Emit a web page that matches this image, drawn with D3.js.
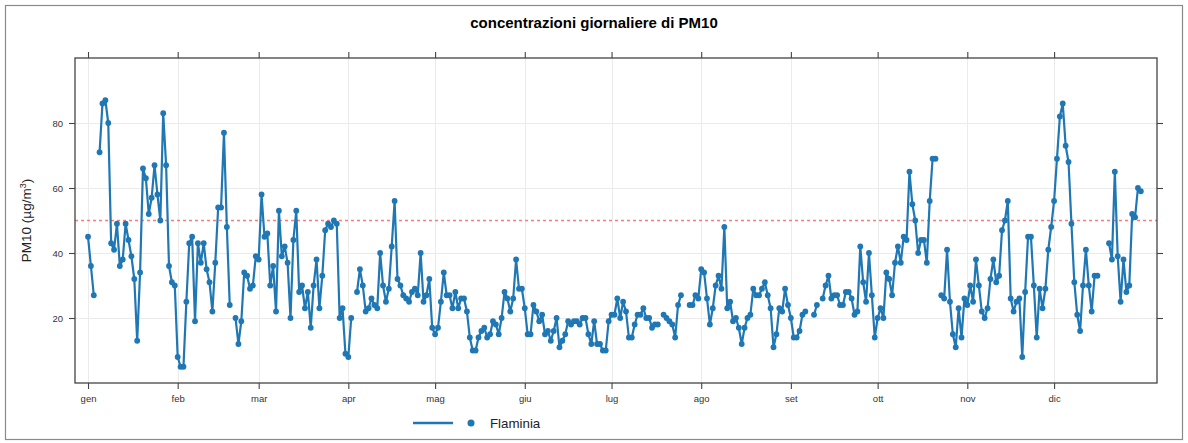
<!DOCTYPE html>
<html>
<head>
<meta charset="utf-8">
<script src="https://cdn.jsdelivr.net/npm/d3@7"></script>
<style>
  body { margin: 0; background: #fff; }
  svg text { font-family: "Liberation Sans", Arial, Helvetica, sans-serif; }
</style>
</head>
<body>
<svg id="chart" width="1188" height="443"></svg>
<script>
// Daily PM10 means (µg/m³), one array per month; null = no valid day.
const year = 2023;
const monthLabels = ["gen", "feb", "mar", "apr", "mag", "giu", "lug", "ago", "set", "ott", "nov", "dic"];

const pm10Gen = [45, 36, 27, null, 71, 86, 87, 80, 43, 41, 49, 36, 38, 49, 44, 39, 32, 13, 34, 66, 63, 52, 57, 67, 58, 50, 83, 67, 36, 31, 30];
const pm10Feb = [8, 5, 5, 25, 43, 45, 19, 43, 37, 43, 35, 31, 22, 37, 54, 54, 77, 48, 24, null, 20, 12, 19, 34, 33, 29, 30, 39];
const pm10Mar = [38, 58, 45, 46, 30, 36, 22, 53, 39, 42, 37, 20, 44, 53, 28, 30, 23, 28, 17, 30, 38, 23, 33, 47, 49, 48, 50, 49, 20, 23, 9];
const pm10Apr = [8, 20, null, 28, 35, 30, 22, 23, 26, 24, 23, 40, 30, 25, 29, 42, 56, 32, 30, 27, 26, 25, 28, 29, 27, 40, 25, 27, 32, 17];
const pm10Mag = [15, 17, 25, 34, 27, 27, 23, 28, 23, 26, 26, 22, 14, 10, 10, 14, 16, 17, 14, 15, 19, 18, 15, 20, 28, 26, 22, 26, 38, 29, 29];
const pm10Giu = [23, 15, 15, 24, 22, 19, 21, 15, 16, 13, 16, 20, 11, 13, 15, 19, 18, 19, 19, 18, 20, 20, 15, 12, 19, 12, 12, 10, 10, 19];
const pm10Lug = [21, 21, 26, 20, 25, 22, 14, 14, 18, 21, 21, 23, 20, 20, 17, 18, 18, null, 21, 20, 19, 18, 14, 24, 27, null, null, 24, 24, 27, 26];
const pm10Ago = [35, 34, 26, 18, 23, 30, 33, 29, 48, 23, 25, 19, 20, 17, 12, 17, 20, 21, 29, 27, 27, 29, 31, 27, 23, 11, 15, 23, 22, 29, 24];
const pm10Set = [20, 14, 14, 16, 21, 22, null, null, 21, 24, null, 26, 30, 33, 26, 27, 27, 24, 24, 28, 28, 26, 21, 22, 42, 31, 25, 40, 27, 14];
const pm10Ott = [20, 23, 20, 34, 32, 27, 37, 42, 37, 45, 44, 65, 55, 50, 40, 44, 44, 37, 56, 69, 69, null, 27, 26, 41, 25, 15, 11, 23, 14, 26];
const pm10Nov = [24, 30, 25, 38, 30, 22, 20, 23, 32, 38, 31, 33, 47, 50, 56, 26, 22, 25, 26, 8, 28, 45, 45, 30, 14, 29, 23, 29, 41, 48];
const pm10Dic = [56, 69, 82, 86, 73, 68, 49, 31, 21, 16, 30, 41, 30, 22, 33, 33, null, null, null, 43, 38, 65, 39, 25, 38, 28, 30, 52, 51, 60, 59];

const seriesName = "Flaminia";
const limitValue = 50;          // daily limit value
const yTicks = [20, 40, 60, 80];
const yDomain = [0, 100];

const monthly = [pm10Gen, pm10Feb, pm10Mar, pm10Apr, pm10Mag, pm10Giu,
                 pm10Lug, pm10Ago, pm10Set, pm10Ott, pm10Nov, pm10Dic];
const data = monthly.flatMap((vals, m) =>
  vals.map((v, i) => ({ date: new Date(year, m, i + 1), value: v })));

const svg = d3.select("#chart");
const W = 1188, H = 443;
const plot = { left: 75, right: 1157, top: 58, bottom: 383 };
const color = "#1f77b4";

// outer frame
svg.append("rect")
  .attr("x", 5.5).attr("y", 5.5).attr("width", W - 11).attr("height", H - 9)
  .attr("fill", "#fff").attr("stroke", "#8a8a8a").attr("stroke-width", 1.2);

const x = d3.scaleTime()
  .domain([d3.timeHour.offset(new Date(year, 0, 1), -4.5 * 24),
           d3.timeHour.offset(new Date(year, 11, 31), 5.6 * 24)])
  .range([plot.left, plot.right]);
const y = d3.scaleLinear().domain(yDomain).range([plot.bottom, plot.top]);

const monthStarts = d3.range(12).map(m => new Date(year, m, 1));

// grid
const grid = svg.append("g").attr("stroke", "#ebebeb").attr("stroke-width", 1);
grid.selectAll("line.v").data(monthStarts).join("line")
  .attr("x1", d => Math.round(x(d)) + 0.5).attr("x2", d => Math.round(x(d)) + 0.5)
  .attr("y1", plot.top).attr("y2", plot.bottom);
grid.selectAll("line.h").data(yTicks).join("line")
  .attr("y1", d => Math.round(y(d)) + 0.5).attr("y2", d => Math.round(y(d)) + 0.5)
  .attr("x1", plot.left).attr("x2", plot.right);

// axes (ticks outside on all four sides)
const fmtMonth = d => monthLabels[d.getMonth()];
function styleAxis(g) {
  g.select(".domain").remove();
  g.selectAll(".tick line").attr("stroke", "#444").attr("stroke-width", 1.1);
  g.selectAll(".tick text").attr("fill", "#333").attr("font-size", 9.5)
    .style("font-family", '"Liberation Sans", Arial, sans-serif');
}
svg.append("g").attr("transform", `translate(0,${plot.bottom})`)
  .call(d3.axisBottom(x).tickValues(monthStarts).tickFormat(fmtMonth).tickSize(6).tickPadding(6))
  .call(styleAxis);
svg.append("g").attr("transform", `translate(0,${plot.top})`)
  .call(d3.axisTop(x).tickValues(monthStarts).tickFormat("").tickSize(6))
  .call(styleAxis);
svg.append("g").attr("transform", `translate(${plot.left},0)`)
  .call(d3.axisLeft(y).tickValues(yTicks).tickSize(6).tickPadding(6))
  .call(styleAxis);
svg.append("g").attr("transform", `translate(${plot.right},0)`)
  .call(d3.axisRight(y).tickValues(yTicks).tickFormat("").tickSize(6))
  .call(styleAxis);

// limit line
svg.append("line")
  .attr("x1", plot.left).attr("x2", plot.right)
  .attr("y1", y(limitValue)).attr("y2", y(limitValue))
  .attr("stroke", "#ff7b7b").attr("stroke-width", 1.4).attr("stroke-dasharray", "3,3");

// series
const line = d3.line()
  .defined(d => d.value != null)
  .x(d => x(d.date)).y(d => y(d.value));
svg.append("path").datum(data)
  .attr("fill", "none").attr("stroke", color).attr("stroke-width", 2.2)
  .attr("stroke-linejoin", "round").attr("d", line);
svg.append("g").selectAll("circle").data(data.filter(d => d.value != null)).join("circle")
  .attr("cx", d => x(d.date)).attr("cy", d => y(d.value)).attr("r", 2.9).attr("fill", color);

// panel frame
svg.append("rect")
  .attr("x", plot.left).attr("y", plot.top)
  .attr("width", plot.right - plot.left).attr("height", plot.bottom - plot.top)
  .attr("fill", "none").attr("stroke", "#444").attr("stroke-width", 1.3);

// title
svg.append("text").attr("x", 594).attr("y", 28).attr("text-anchor", "middle")
  .attr("font-size", 15).attr("font-weight", "bold").attr("fill", "#000")
  .text("concentrazioni giornaliere di PM10");

// y label
const yl = svg.append("text")
  .attr("transform", `translate(31,${(plot.top + plot.bottom) / 2}) rotate(-90)`)
  .attr("text-anchor", "middle").attr("font-size", 13.5).attr("fill", "#222");
yl.append("tspan").text("PM10 (µg/m");
yl.append("tspan").attr("baseline-shift", "super").attr("font-size", 9).text("3");
yl.append("tspan").text(")");

// legend
const lg = svg.append("g").attr("transform", "translate(0,423)");
lg.append("line").attr("x1", 413).attr("x2", 453).attr("y1", 0).attr("y2", 0)
  .attr("stroke", color).attr("stroke-width", 2.5);
lg.append("circle").attr("cx", 471).attr("cy", 0).attr("r", 3.5).attr("fill", color);
lg.append("text").attr("x", 490).attr("y", 5).attr("font-size", 13.3).attr("fill", "#222").text(seriesName);
</script>
</body>
</html>
